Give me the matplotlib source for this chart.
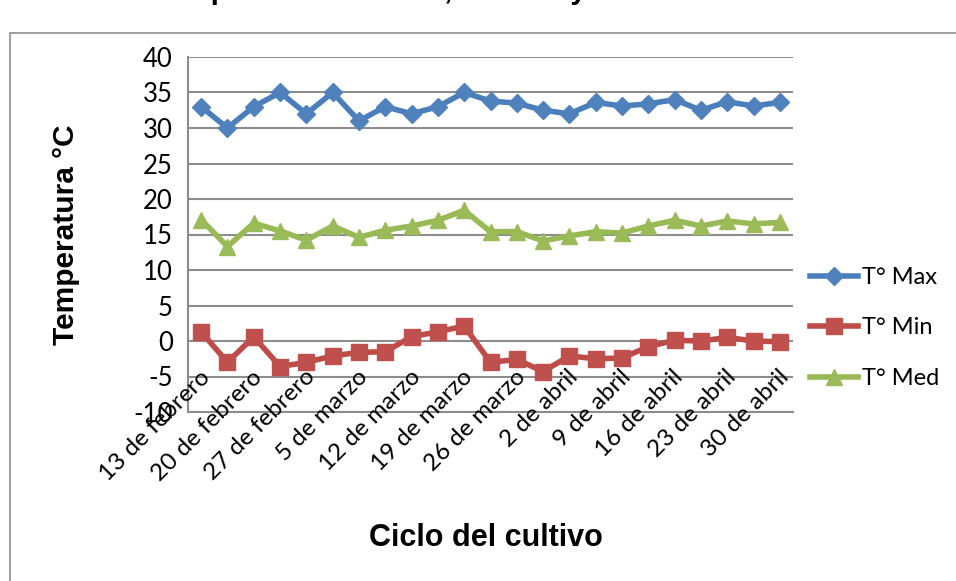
import matplotlib
matplotlib.use("Agg")
import matplotlib.pyplot as plt
from matplotlib.patches import Rectangle

plt.rcParams["axes.unicode_minus"] = False

# Weekly labels (every second reading) and readings per series
week_labels = ["13 de febrero", "20 de febrero", "27 de febrero", "5 de marzo",
               "12 de marzo", "19 de marzo", "26 de marzo", "2 de abril",
               "9 de abril", "16 de abril", "23 de abril", "30 de abril"]
t_max = [33, 30, 33, 35, 32, 35, 31, 33, 32, 33, 35,
         33.8, 33.5, 32.5, 32.0, 33.6, 33.1, 33.4, 34.0, 32.5, 33.7, 33.1, 33.6]
t_min = [1.3, -3.0, 0.6, -3.6, -3.0, -2.1, -1.6, -1.5, 0.6, 1.3, 2.1,
         -3.0, -2.6, -4.3, -2.1, -2.5, -2.4, -0.8, 0.1, 0.0, 0.5, 0.0, -0.1]
t_med = [17.1, 13.3, 16.6, 15.5, 14.2, 16.2, 14.6, 15.6, 16.2, 17.0, 18.4,
         15.4, 15.4, 14.1, 14.8, 15.4, 15.2, 16.2, 17.0, 16.2, 16.9, 16.5, 16.7]
series_names = ["T° Max", "T° Min", "T° Med"]
y_ticks = [-10, -5, 0, 5, 10, 15, 20, 25, 30, 35, 40]

W, H, DPI = 956, 581, 100
fig = plt.figure(figsize=(W / DPI, H / DPI), dpi=DPI)
fig.patch.set_facecolor("white")

# chart-area frame
fig.add_artist(Rectangle((10 / W, -0.05), 1.0, 1 - 33 / H + 0.05,
                         transform=fig.transFigure, fill=False,
                         edgecolor="#8c8c8c", linewidth=1.2, clip_on=False))

ax = fig.add_axes([188 / W, 1 - 412 / H, (793 - 188) / W, (412 - 57) / H])
x = list(range(len(t_max)))

styles = [
    (t_max, "#4A7EBB", "#4F81BD", "D", 9.5),
    (t_min, "#BE4B48", "#C0504D", "s", 12),
    (t_med, "#98B954", "#9BBB59", "^", 12),
]
for (vals, lc, mc, mk, ms), name in zip(styles, series_names):
    ax.plot(x, vals, color=lc, linewidth=4, marker=mk, markersize=ms,
            markerfacecolor=mc, markeredgecolor=mc, label=name, zorder=3)

ax.set_xlim(-0.5, len(t_max) - 0.5)
ax.set_ylim(-10, 40)
ax.set_yticks(y_ticks)
ax.yaxis.grid(True, color="#8c8c8c", linewidth=1.5)
ax.set_axisbelow(True)
for side in ["top", "right"]:
    ax.spines[side].set_visible(False)
for side in ["left", "bottom"]:
    ax.spines[side].set_color("#8c8c8c")
    ax.spines[side].set_linewidth(1.5)
ax.tick_params(axis="y", length=0, pad=11, labelsize=18.5)
for lbl in ax.get_yticklabels():
    lbl.set_fontfamily("Lato")
ax.set_xticks([])

# rotated week labels at every second category
for i, lab in enumerate(week_labels):
    ax.text(2 * i + 0.2, -4.6, lab, rotation=45, rotation_mode="anchor",
            ha="right", va="center", fontsize=17.5, family="Lato",
            clip_on=False)

leg = ax.legend(loc="center left", bbox_to_anchor=(801 / W, 1 - 328 / H),
                bbox_transform=fig.transFigure, frameon=False,
                prop={"family": "Lato", "size": 17}, handlelength=2.0,
                handletextpad=0.2, labelspacing=1.25, borderaxespad=0)

bold = {"family": "Liberation Sans", "weight": "bold"}
fig.text(66 / W, 1 - 235 / H, "Temperatura °C", rotation=90,
         ha="center", va="center", fontsize=21.5, **bold)
fig.text(486 / W, 1 - 538 / H, "Ciclo del cultivo",
         ha="center", va="center", fontsize=22, **bold)
fig.text(153 / W, 1 + 1 / H, "Temperatura máxima, mínima y media",
         ha="left", va="baseline", fontsize=21, **bold)

fig.savefig("out.png", dpi=DPI)
